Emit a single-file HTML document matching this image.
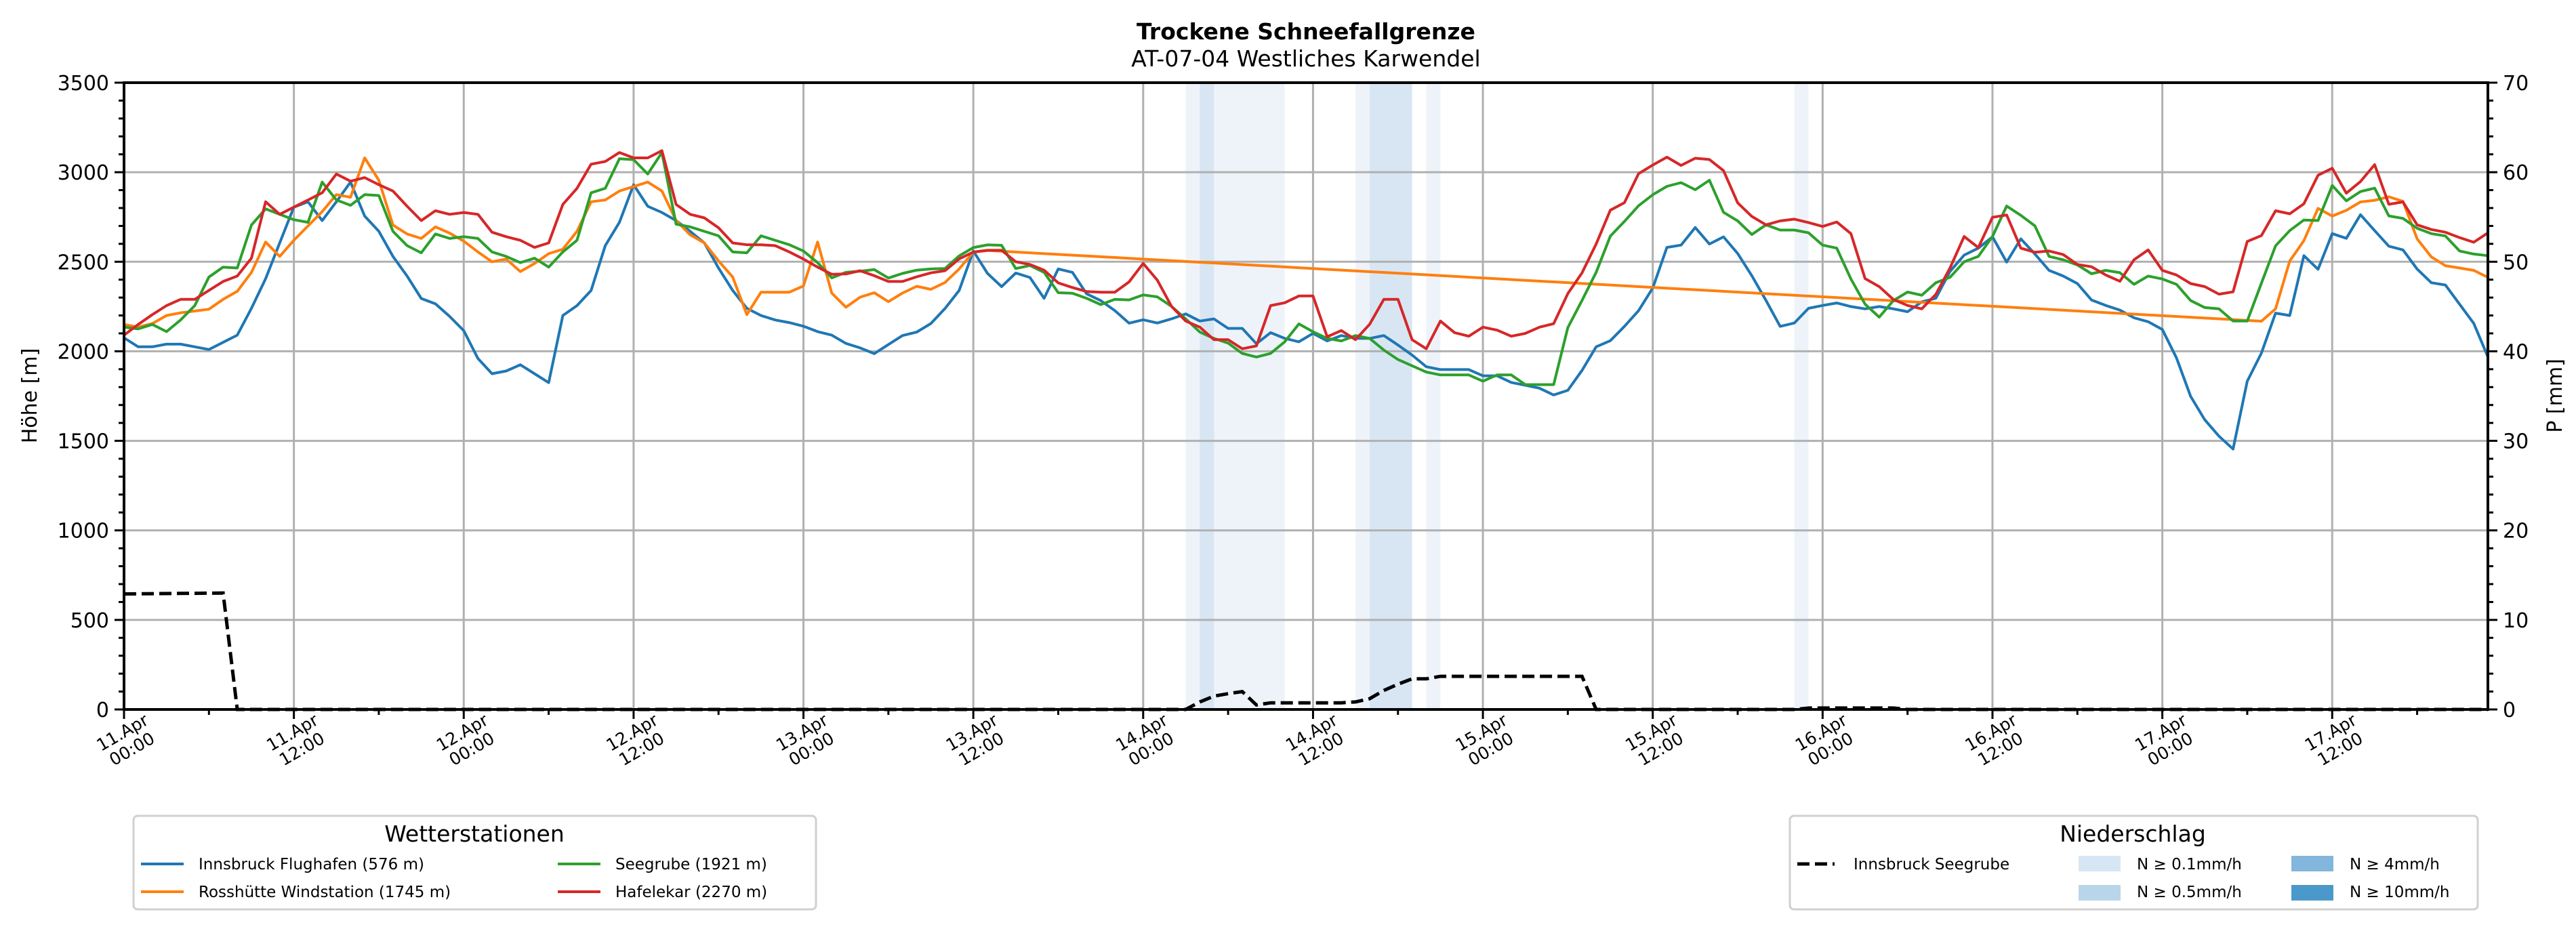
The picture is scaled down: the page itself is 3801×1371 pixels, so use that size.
<!DOCTYPE html>
<html><head><meta charset="utf-8"><style>
html,body{margin:0;padding:0;background:#fff;}
svg{display:block;font-family:"DejaVu Sans","Liberation Sans",sans-serif;}
</style></head><body>
<svg id="chart" width="3801" height="1371" viewBox="0 0 3801 1371" xmlns="http://www.w3.org/2000/svg">
<rect width="3801" height="1371" fill="#fff"/>
<text x="1927" y="58" text-anchor="middle" font-size="33" font-weight="bold">Trockene Schneefallgrenze</text>
<text x="1927" y="98" text-anchor="middle" font-size="33">AT-07-04 Westliches Karwendel</text>
<g id="bands"></g>
<g id="grid"></g>
<g id="series"></g>
<g id="axes"></g>
<text transform="translate(54,584) rotate(-90)" text-anchor="middle" font-size="30">Höhe [m]</text>
<text transform="translate(3780,584) rotate(-90)" text-anchor="middle" font-size="30">P [mm]</text>

<g>
<rect x="197" y="1204" width="1007" height="138" rx="6" fill="#fff" stroke="#d0d0d0" stroke-width="3"/>
<text x="700" y="1242" text-anchor="middle" font-size="33">Wetterstationen</text>
<g><line x1="208" y1="1275" x2="271" y2="1275" stroke="#1f77b4" stroke-width="4"/><text x="293" y="1283" font-size="23">Innsbruck Flughafen (576 m)</text></g>
<g><line x1="208" y1="1316" x2="271" y2="1316" stroke="#ff7f0e" stroke-width="4"/><text x="293" y="1324" font-size="23">Rosshütte Windstation (1745 m)</text></g>
<g><line x1="823" y1="1275" x2="886" y2="1275" stroke="#2ca02c" stroke-width="4"/><text x="908" y="1283" font-size="23">Seegrube (1921 m)</text></g>
<g><line x1="823" y1="1316" x2="886" y2="1316" stroke="#d62728" stroke-width="4"/><text x="908" y="1324" font-size="23">Hafelekar (2270 m)</text></g>
</g>

<g>
<rect x="2641" y="1204" width="1015" height="138" rx="6" fill="#fff" stroke="#d0d0d0" stroke-width="3"/>
<text x="3147" y="1242" text-anchor="middle" font-size="33">Niederschlag</text>
<g><line x1="2652" y1="1275" x2="2707" y2="1275" stroke="#000" stroke-width="5" stroke-dasharray="18 8"/><text x="2735" y="1283" font-size="23">Innsbruck Seegrube</text></g>
<g><rect x="3067" y="1263" width="62" height="23" fill="#d6e6f4"/><text x="3153" y="1283" font-size="23">N ≥ 0.1mm/h</text></g>
<g><rect x="3067" y="1306" width="62" height="23" fill="#b9d5ea"/><text x="3153" y="1324" font-size="23">N ≥ 0.5mm/h</text></g>
<g><rect x="3381" y="1263" width="62" height="23" fill="#82b6dc"/><text x="3467" y="1283" font-size="23">N ≥ 4mm/h</text></g>
<g><rect x="3381" y="1306" width="62" height="23" fill="#4b98ca"/><text x="3467" y="1324" font-size="23">N ≥ 10mm/h</text></g>
</g>
</svg>
<script>
// ---- data ----
const hoursMax = 167;
const tickDays = ["11.Apr","11.Apr","12.Apr","12.Apr","13.Apr","13.Apr","14.Apr","14.Apr","15.Apr","15.Apr","16.Apr","16.Apr","17.Apr","17.Apr"];
const tickTimes = ["00:00","12:00","00:00","12:00","00:00","12:00","00:00","12:00","00:00","12:00","00:00","12:00","00:00","12:00"];
const leftTicks = [0,500,1000,1500,2000,2500,3000,3500];
const rightTicks = [0,10,20,30,40,50,60,70];

const innsbruck = [2075,2025,2025,2040,2040,2025,2010,2050,2090,2240,2405,2605,2805,2835,2730,2835,2945,2755,2670,2530,2420,2295,2265,2195,2115,1960,1875,1890,1925,1875,1825,2200,2255,2340,2590,2720,2930,2810,2775,2730,2670,2605,2465,2340,2240,2200,2175,2160,2140,2110,2090,2044,2019,1987,
2038,2088,2107,2155,2239,2340,2560,2435,2361,2437,2412,2296,2460,2441,2321,2283,2227,2157,2176,
2158,2181,2209,2169,2181,2128,2128,2042,2104,2072,2053,2100,2058,2088,2072,2072,2088,2035,1979,1914,1898,1898,1898,1863,1863,1826,1810,1794,1756,
1782,1893,2025,2059,2139,2227,2353,2580,2593,2691,2599,2639,2546,2422,2284,2139,2158,2240,2256,
2270,2250,2237,2250,2237,2221,2276,2296,2446,2537,2576,2639,2498,2628,2543,2452,2420,2378,2286,2256,2230,2187,2165,2122,
1963,1748,1617,1526,1454,1833,1990,2213,2200,2534,2458,2657,2631,2763,2674,2587,2566,2459,2383,2370,2263,2156,1969];

const N = null;
const rosshuette = [2150,2135,2155,2200,2215,2225,2235,2290,2335,2440,2610,2530,2620,2700,2780,2875,2860,3080,2955,2705,2655,2630,2695,2660,2615,2555,2500,2515,2445,2490,2545,2570,2670,2835,2845,2895,2920,2945,2895,2730,2650,2605,2505,2415,2205,2330,2330,2330,2365,2610,2325,2246,2302,2327,
2277,2325,2363,2346,2384,2460,2554,2563,
N,N,N,N,N,N,N,N,N,N,N,N,N,N,N,N,N,N,N,N,N,N,N,N,N,N,N,N,N,N,N,N,N,N,N,N,N,N,N,N,N,N,N,N,N,N,N,N,N,N,N,N,N,N,N,N,N,N,N,N,N,N,N,N,N,N,N,N,N,N,N,N,N,N,N,N,N,N,N,N,N,N,N,N,N,N,N,N,N,
2168,2237,2504,2618,2798,2755,2787,2834,2843,2863,2837,2628,2527,2478,2465,2452,2413];

const seegrube = [2135,2125,2150,2110,2175,2255,2415,2470,2465,2705,2795,2765,2735,2720,2945,2845,2815,2875,2870,2670,2590,2550,2655,2630,2640,2630,2555,2530,2495,2520,2470,2555,2620,2885,2910,3075,3070,2990,3110,2710,2695,2670,2645,2555,2550,2645,2620,2595,2560,2495,2410,2441,2447,2456,
2409,2435,2453,2460,2462,2533,2579,2594,2592,2462,2479,2441,2327,2324,2296,2261,2290,2287,2315,
2304,2251,2181,2107,2072,2046,1988,1968,1988,2053,2153,2109,2072,2058,2088,2072,2007,1954,1919,1884,1868,1868,1868,1833,1868,1868,1814,1814,1814,
2132,2284,2441,2643,2725,2813,2874,2921,2942,2902,2955,2776,2728,2652,2706,2677,2677,2662,2593,
2576,2404,2263,2191,2283,2331,2313,2383,2413,2500,2530,2641,2811,2759,2700,2530,2511,2482,2433,2452,2439,2374,2420,2404,
2374,2283,2244,2237,2169,2169,2380,2589,2674,2733,2730,2926,2840,2892,2911,2756,2742,2687,2657,2644,2560,2543,2534];

const hafelekar = [2090,2150,2205,2255,2290,2290,2340,2390,2420,2520,2835,2765,2805,2845,2885,2990,2950,2970,2930,2895,2810,2730,2785,2765,2775,2765,2665,2640,2620,2580,2605,2820,2910,3045,3060,3110,3080,3080,3120,2820,2765,2745,2690,2605,2595,2595,2590,2555,2515,2470,2430,2432,2450,2422,
2390,2390,2416,2438,2450,2516,2554,2564,2564,2500,2485,2453,2382,2356,2334,2330,2330,2387,2491,
2397,2251,2169,2135,2065,2065,2014,2030,2255,2271,2309,2309,2081,2116,2065,2151,2290,2290,2065,2014,2169,2104,2084,2135,2118,2084,2100,2135,2154,
2322,2438,2599,2788,2830,2992,3040,3084,3038,3078,3071,3009,2829,2753,2706,2728,2738,2719,2697,
2722,2657,2406,2361,2289,2256,2237,2318,2465,2641,2579,2748,2761,2576,2553,2560,2540,2485,2472,2426,2391,2511,2566,2452,
2426,2378,2361,2319,2332,2613,2646,2785,2768,2824,2983,3022,2883,2948,3042,2821,2834,2706,2680,2665,2635,2609,2661];

const dashHours = [0,7,8,75,76,77,78,79,80,81,86,87,88,89,90,91,92,93,103,104,118,119,125,126,167];
const dashValues = [645,650,0,0,42,74,88,100,25,37,37,42,60,106,141,171,171,185,185,0,0,8,8,0,0];

const bandStart = [75,76,87,88,92,118];
const bandEnd = [82,77,88,91,93,119];
const bandLevel = [0,1,0,1,0,0];

// ---- scales ----
const X0=183, X1=3671, Y0=1047, Y1=122;
function xs(h){return X0+(X1-X0)*h/hoursMax;}
function ys(v){return Y0-(Y0-Y1)*v/3500;}
function yr(v){return Y0-(Y0-Y1)*v/70;}
const NS="http://www.w3.org/2000/svg";
function mk(tag,attrs,parent){const e=document.createElementNS(NS,tag);for(const k in attrs)e.setAttribute(k,attrs[k]);parent.appendChild(e);return e;}

const gb=document.getElementById('bands');
bandStart.forEach((s,i)=>{
  const r=mk('rect',{x:xs(s),y:Y1,width:xs(bandEnd[i])-xs(s),height:Y0-Y1,fill:bandLevel[i]?'#d8e6f3':'#eef3fa'},gb);
  
  
});

const gg=document.getElementById('grid');
for(let i=0;i<tickDays.length;i++){
  const l=mk('line',{x1:xs(i*12),y1:Y1,x2:xs(i*12),y2:Y0,stroke:'#b0b0b0','stroke-width':3},gg);
  
  
}
leftTicks.forEach(v=>{
  const l=mk('line',{x1:X0,y1:ys(v),x2:X1,y2:ys(v),stroke:'#b0b0b0','stroke-width':3},gg);
  
  
});

const gs=document.getElementById('series');
function drawLine(arr,color,name){
  let d='';let started=false;
  arr.forEach((v,h)=>{ if(v===null)return; d+=(started?'L':'M')+xs(h).toFixed(1)+' '+ys(v).toFixed(1)+' '; started=true;});
  const p=mk('path',{d:d,fill:'none',stroke:color,'stroke-width':4,'stroke-linejoin':'round'},gs);
  
  
}
drawLine(innsbruck,'#1f77b4','line-innsbruck-flughafen');
drawLine(rosshuette,'#ff7f0e','line-rosshuette');
drawLine(seegrube,'#2ca02c','line-seegrube');
drawLine(hafelekar,'#d62728','line-hafelekar');
let dd='';
dashHours.forEach((h,i)=>{dd+=(i?'L':'M')+xs(h).toFixed(1)+' '+ys(dashValues[i]).toFixed(1)+' ';});
const dp=mk('path',{d:dd,fill:'none',stroke:'#000','stroke-width':5,'stroke-dasharray':'18 8'},gs);



const ga=document.getElementById('axes');
const frame=mk('rect',{x:X0,y:Y1,width:X1-X0,height:Y0-Y1,fill:'none',stroke:'#000','stroke-width':4},ga);


for(let v=0;v<=3500;v+=100){
  const major=v%500===0;
  mk('line',{x1:X0,y1:ys(v),x2:X0-(major?14:8),y2:ys(v),stroke:'#000','stroke-width':3},ga);
}
leftTicks.forEach(v=>{
  const t=mk('text',{x:X0-22,y:ys(v)+11,'text-anchor':'end','font-size':30},ga);
  t.textContent=v;
  
  
});
for(let v=0;v<=70;v+=2){
  const major=v%10===0;
  mk('line',{x1:X1,y1:yr(v),x2:X1+(major?14:8),y2:yr(v),stroke:'#000','stroke-width':3},ga);
}
rightTicks.forEach(v=>{
  const t=mk('text',{x:X1+22,y:yr(v)+11,'text-anchor':'start','font-size':30},ga);
  t.textContent=v;
  
  
});
for(let h=0;h<=hoursMax;h+=6){
  const major=h%12===0;
  mk('line',{x1:xs(h),y1:Y0,x2:xs(h),y2:Y0+(major?14:8),stroke:'#000','stroke-width':3},ga);
}
tickDays.forEach((d,i)=>{
  const g=mk('g',{transform:'translate('+(xs(i*12)+4)+',1092) rotate(-30)'},ga);
  
  
  const t1=mk('text',{x:0,y:-4,'text-anchor':'middle','font-size':25},g);t1.textContent=d;
  const t2=mk('text',{x:0,y:24,'text-anchor':'middle','font-size':25},g);t2.textContent=tickTimes[i];
});
</script>
</body></html>
